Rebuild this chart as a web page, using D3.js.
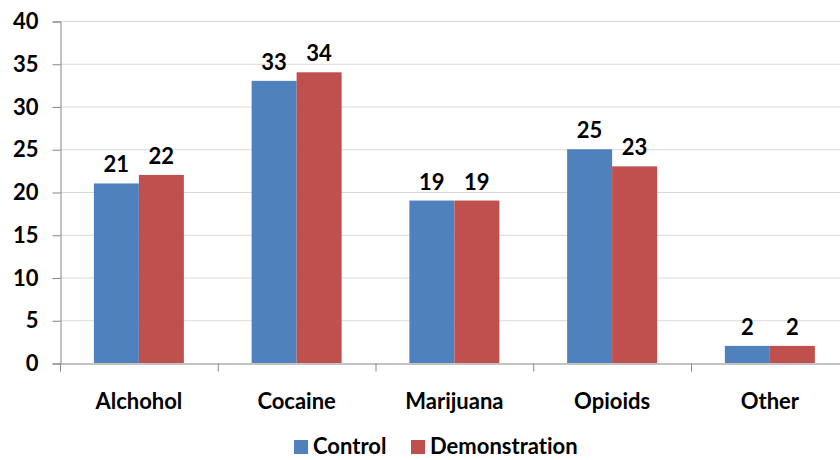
<!DOCTYPE html>
<html>
<head>
<meta charset="utf-8">
<script src="https://cdn.jsdelivr.net/npm/d3@7"></script>
<style>
  html, body { margin: 0; padding: 0; background: #fff; }
  svg text { font-family: Lato, "Open Sans", sans-serif; font-weight: 700; fill: #000; font-variant-ligatures: none; }
</style>
</head>
<body>
<svg id="chart" width="840" height="460"></svg>
<script>
const categories = ["Alchohol", "Cocaine", "Marijuana", "Opioids", "Other"];
const seriesNames = ["Control", "Demonstration"];
const controlValues = [21, 33, 19, 25, 2];
const demonstrationValues = [22, 34, 19, 23, 2];
const yTicks = [0, 5, 10, 15, 20, 25, 30, 35, 40];
const colors = ["#4F81BD", "#C0504D"];

const svg = d3.select("#chart");
const plotLeft = 60, plotTop = 21, plotBottom = 363, catWidth = 157.75;
const plotRight = plotLeft + catWidth * categories.length;
const fontSize = 22;

const x = d3.scaleBand().domain(categories).range([plotLeft, plotRight]).paddingInner(0).paddingOuter(0);
const y = d3.scaleLinear().domain([0, 40]).range([plotBottom, plotTop]);
const barW = 45;
const sub = d3.scaleBand().domain(seriesNames).range([0, barW * 2]);

// gridlines
svg.append("g").selectAll("line").data(yTicks.filter(d => d > 0)).join("line")
  .attr("x1", plotLeft).attr("x2", plotRight)
  .attr("y1", d => y(d) + 0.5).attr("y2", d => y(d) + 0.5)
  .attr("stroke", "#d9d9d9").attr("stroke-width", 1);

// bars
const rows = categories.map((c, i) => ({ cat: c, vals: [controlValues[i], demonstrationValues[i]] }));
const groups = svg.append("g").selectAll("g").data(rows).join("g")
  .attr("transform", d => `translate(${x(d.cat) + x.bandwidth() / 2 - barW},0)`);
groups.selectAll("rect").data(d => d.vals.map((v, j) => ({ v, j }))).join("rect")
  .attr("x", d => sub(seriesNames[d.j]))
  .attr("width", sub.bandwidth())
  .attr("y", d => y(d.v))
  .attr("height", d => plotBottom - y(d.v))
  .attr("fill", d => colors[d.j]);
groups.selectAll("text").data(d => d.vals.map((v, j) => ({ v, j }))).join("text")
  .attr("x", d => sub(seriesNames[d.j]) + sub.bandwidth() / 2)
  .attr("y", d => y(d.v) - 11)
  .attr("text-anchor", "middle")
  .attr("font-size", fontSize)
  .text(d => d.v);

// y axis
const yAxis = d3.axisLeft(y).tickValues(yTicks).tickSize(8).tickPadding(14);
const gy = svg.append("g").attr("transform", `translate(${plotLeft + 0.5},0.5)`).call(yAxis);
gy.select(".domain").attr("stroke", "#868686");
gy.selectAll(".tick line").attr("stroke", "#868686");
gy.selectAll(".tick text").attr("font-size", fontSize).attr("fill", "#000")
  .style("font-family", "Lato, 'Open Sans', sans-serif").style("font-weight", 700);

// x axis
const xAxis = d3.axisBottom(x).tickSize(0).tickPadding(30);
const gx = svg.append("g").attr("transform", `translate(0,${plotBottom + 0.5})`).call(xAxis);
gx.select(".domain").attr("stroke", "#868686");
gx.selectAll(".tick text").attr("font-size", fontSize).attr("fill", "#000")
  .style("font-family", "Lato, 'Open Sans', sans-serif").style("font-weight", 700);
gx.append("g").selectAll("line").data(d3.range(categories.length + 1)).join("line")
  .attr("x1", i => plotLeft + 0.5 + i * catWidth).attr("x2", i => plotLeft + 0.5 + i * catWidth)
  .attr("y1", 0).attr("y2", 8).attr("stroke", "#868686");

// legend
const legend = svg.append("g");
const legendItems = [{ name: "Control", x: 294 }, { name: "Demonstration", x: 411 }];
legendItems.forEach((d, i) => {
  legend.append("rect").attr("x", d.x).attr("y", 440).attr("width", 14).attr("height", 14).attr("fill", colors[i]);
  legend.append("text").attr("x", d.x + 19).attr("y", 454).attr("font-size", fontSize).text(d.name);
});
</script>
</body>
</html>
